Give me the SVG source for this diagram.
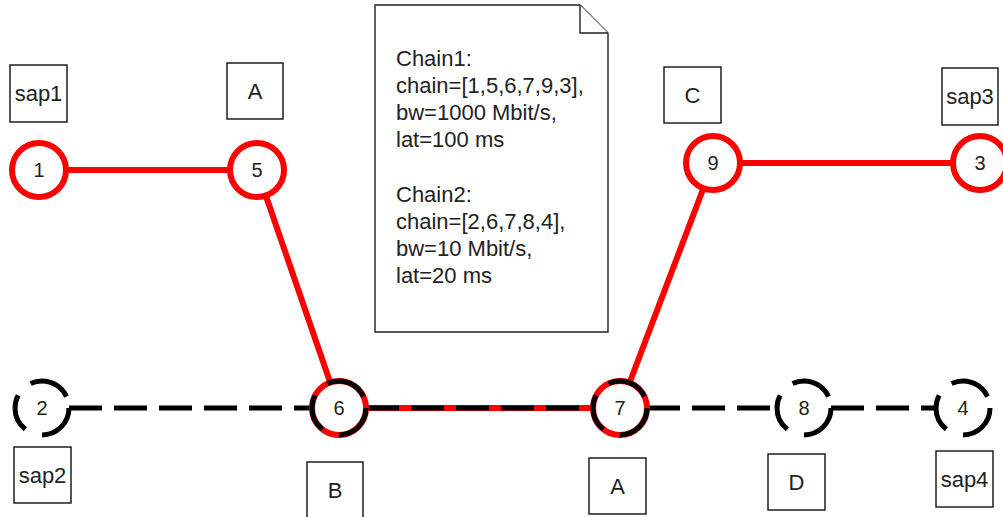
<svg xmlns="http://www.w3.org/2000/svg" width="1003" height="517" viewBox="0 0 1003 517">
<style>
.bg{fill:#fff}
.box{fill:#fff;stroke:#111;stroke-width:1.4}
.note{fill:#fff;stroke:#222;stroke-width:1.4;stroke-linejoin:miter}
.t{font-family:"Liberation Sans",Arial,sans-serif;font-size:22px;fill:#222;text-anchor:middle}
.nt{font-family:"Liberation Sans",Arial,sans-serif;font-size:20px;fill:#222;text-anchor:middle}
.ntext{font-family:"Liberation Sans",Arial,sans-serif;font-size:22px;fill:#222}
.red{stroke:#ff0000;stroke-width:6;fill:none}
.blk{stroke:#000;stroke-width:5;fill:none;stroke-dasharray:33 12}
.rc{fill:#fff;stroke:#ff0000;stroke-width:6}
.dc{fill:#fff;stroke:#000;stroke-width:5;stroke-dasharray:90 38 80 37 90 25}
.dco{fill:none;stroke:#000;stroke-width:5;stroke-dasharray:90 38 80 37 90 25}
</style>
<rect class="bg" x="0" y="0" width="1003" height="517"/>

<g id="note">
<path class="note" d="M375,5 H580 L608,33 V332 H375 Z"/>
<path class="note" d="M580,5 V33 H608" fill="none"/>
<text class="ntext" x="396" y="66">Chain1:</text>
<text class="ntext" x="396" y="93">chain=[1,5,6,7,9,3],</text>
<text class="ntext" x="396" y="120">bw=1000 Mbit/s,</text>
<text class="ntext" x="396" y="147">lat=100 ms</text>
<text class="ntext" x="396" y="202">Chain2:</text>
<text class="ntext" x="396" y="229">chain=[2,6,7,8,4],</text>
<text class="ntext" x="396" y="256">bw=10 Mbit/s,</text>
<text class="ntext" x="396" y="283">lat=20 ms</text>
</g>

<g id="connectors">
<line class="red" x1="39" y1="170" x2="257" y2="170"/>
<line class="red" x1="257" y1="170" x2="339" y2="408"/>
<line class="red" x1="339" y1="408" x2="620" y2="408"/>
<line class="red" x1="620" y1="408" x2="713" y2="163"/>
<line class="red" x1="713" y1="163" x2="980" y2="163"/>
<line class="blk" x1="69" y1="408" x2="312" y2="408"/>
<line class="blk" x1="366" y1="408" x2="593" y2="408"/>
<line class="blk" x1="647" y1="408" x2="777" y2="408"/>
<line class="blk" x1="831" y1="408" x2="936" y2="408"/>
</g>

<g id="node1"><circle class="rc" cx="39" cy="170" r="27"/><text class="nt" x="39" y="177">1</text></g>
<g id="node5"><circle class="rc" cx="257" cy="170" r="27"/><text class="nt" x="257" y="177">5</text></g>
<g id="node9"><circle class="rc" cx="713" cy="163" r="27"/><text class="nt" x="713" y="170">9</text></g>
<g id="node3"><circle class="rc" cx="980" cy="163" r="27"/><text class="nt" x="980" y="170">3</text></g>
<g id="node2"><circle class="dc" pathLength="360" cx="42" cy="408" r="27"/><text class="nt" x="42" y="415">2</text></g>
<g id="node6"><circle class="rc" cx="339" cy="408" r="27"/><circle class="dco" pathLength="360" cx="339" cy="408" r="27"/><text class="nt" x="339" y="415">6</text></g>
<g id="node7"><circle class="rc" cx="620" cy="408" r="27"/><circle class="dco" pathLength="360" cx="620" cy="408" r="27"/><text class="nt" x="620" y="415">7</text></g>
<g id="node8"><circle class="dc" pathLength="360" cx="804" cy="408" r="27"/><text class="nt" x="804" y="415">8</text></g>
<g id="node4"><circle class="dc" pathLength="360" cx="963" cy="408" r="27"/><text class="nt" x="963" y="415">4</text></g>

<g id="label-sap1"><rect class="box" x="10" y="65" width="57" height="57"/><text class="t" x="38.5" y="101">sap1</text></g>
<g id="label-A1"><rect class="box" x="227" y="63" width="56" height="56"/><text class="t" x="255" y="99">A</text></g>
<g id="label-C"><rect class="box" x="664" y="67" width="57" height="56"/><text class="t" x="692.5" y="103">C</text></g>
<g id="label-sap3"><rect class="box" x="942" y="68" width="56" height="57"/><text class="t" x="970" y="104">sap3</text></g>
<g id="label-sap2"><rect class="box" x="14" y="447" width="57" height="56"/><text class="t" x="42.5" y="483">sap2</text></g>
<g id="label-B"><rect class="box" x="307" y="462" width="56" height="57"/><text class="t" x="335" y="498">B</text></g>
<g id="label-A2"><rect class="box" x="589" y="458" width="57" height="56"/><text class="t" x="617.5" y="494">A</text></g>
<g id="label-D"><rect class="box" x="768" y="454" width="57" height="56"/><text class="t" x="796.5" y="490">D</text></g>
<g id="label-sap4"><rect class="box" x="936" y="451" width="57" height="56"/><text class="t" x="964.5" y="487">sap4</text></g>
</svg>
